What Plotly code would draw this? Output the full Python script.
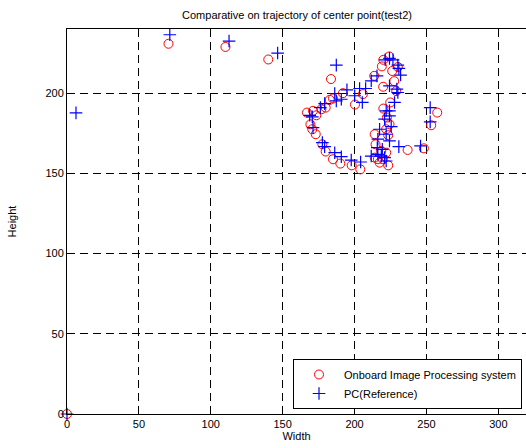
import plotly.graph_objects as go

# Onboard Image Processing system (red circles)
onboard_x = [0, 70.6, 110.2, 140.0,
             183.6, 213.7, 219.9, 224.1, 220.0, 219.0, 226.2, 230.1, 227.6, 229.0,
             224.8, 220.0, 222.5, 224.3, 222.0, 223.4,
             166.9, 171.1, 173.4, 176.9, 179.9, 182.7, 185.0, 191.9, 200.3, 205.8,
             169.3, 170.6, 173.0, 177.6, 179.9, 185.0, 190.1, 198.0, 204.0,
             214.0, 214.6, 214.0, 216.2, 217.4, 219.7, 223.4, 222.0, 218.6,
             257.5, 253.3, 248.2, 236.9]
onboard_y = [0, 230.8, 228.8, 221.0,
             208.8, 210.8, 204.0, 222.9, 220.8, 216.7, 213.8, 216.3, 207.5, 201.3,
             194.2, 190.4, 184.8, 180.6, 177.5, 173.8,
             187.9, 189.0, 186.2, 190.0, 191.0, 195.8, 196.7, 200.0, 192.9, 199.4,
             180.6, 177.5, 174.4, 168.1, 163.6, 158.8, 156.1, 155.0, 152.5,
             174.4, 168.1, 159.8, 158.8, 156.7, 158.8, 155.0, 162.9, 164.0,
             187.9, 180.0, 165.6, 164.6]

# PC(Reference) (blue pluses)
pc_x = [0, 6.25, 71.5, 112.7, 146.5,
        187.3, 221.3, 224.3, 226.7, 230.1, 230.8, 232.0, 211.6, 215.6, 224.3,
        229.4, 230.1, 227.8, 224.3, 222.0, 224.3, 220.9, 225.5, 217.4, 222.0,
        216.2, 224.3, 215.8, 219.3, 216.2, 211.6, 218.6, 220.9, 222.0,
        168.8, 170.6, 171.1, 176.2, 179.2, 186.2, 187.3, 190.8, 194.7, 203.5,
        207.7, 200.1, 205.4, 177.6, 179.2, 186.2, 190.8, 197.7, 204.2,
        252.6, 252.6, 245.9, 230.8]
pc_y = [0, 187.7, 236.4, 232.5, 225.0,
        217.5, 220.8, 221.7, 220.8, 217.5, 215.4, 211.3, 207.7, 210.8, 204.6,
        202.5, 200.4, 194.2, 189.0, 189.0, 185.8, 183.8, 179.2, 177.5, 174.4,
        171.3, 170.2, 166.0, 165.0, 161.9, 160.8, 160.8, 159.8, 157.7,
        186.2, 185.2, 178.5, 191.0, 193.5, 199.8, 195.2, 196.2, 202.1, 202.9,
        202.9, 198.4, 194.2, 169.2, 166.7, 162.9, 160.4, 158.3, 157.1,
        191.0, 182.1, 167.1, 166.7]

x_ticks = [0, 50, 100, 150, 200, 250, 300]
y_ticks = [0, 50, 100, 150, 200]

FONT = "Liberation Sans, Arial, sans-serif"

W, H = 526, 448
L, R, T, B = 67, 0, 29, 34
plot_w = W - L - R

fig = go.Figure()
fig.add_trace(go.Scatter(
    x=onboard_x, y=onboard_y, mode="markers", cliponaxis=False,
    name="Onboard Image Processing system",
    marker=dict(symbol="circle-open", size=9, color="#ff0000", line=dict(width=1, color="#ff0000")),
))
fig.add_trace(go.Scatter(
    x=pc_x, y=pc_y, mode="markers", cliponaxis=False,
    name="PC(Reference)",
    marker=dict(symbol="cross-thin-open", size=9, color="#0000ff", line=dict(width=1.2, color="#0000ff")),
))

axis_common = dict(
    showline=True, linecolor="black", linewidth=1,
    ticks="inside", ticklen=4, tickcolor="black",
    showgrid=True, gridcolor="black", gridwidth=1, griddash="8px,5px",
    zeroline=False, automargin=False,
    tickfont=dict(family=FONT, size=11, color="black"),
)

fig.update_layout(
    width=W, height=H,
    margin=dict(l=L, r=R, t=T, b=B),
    paper_bgcolor="white", plot_bgcolor="white",
    font=dict(family=FONT, size=11, color="black"),
    title=dict(text="Comparative on trajectory of center point(test2)",
               x=297 / W, xanchor="center", y=1 - 15 / H, yanchor="middle", yref="container",
               font=dict(family=FONT, size=11, color="black")),
    xaxis=dict(range=[0, plot_w / 1.4378], tickvals=x_ticks, ticktext=[str(v) for v in x_ticks],
               mirror=True, title=dict(text="Width", standoff=1,
                                       font=dict(family=FONT, size=11, color="black")),
               **axis_common),
    yaxis=dict(range=[0, 240], tickvals=y_ticks, ticktext=[str(v) for v in y_ticks],
               mirror=False, title=dict(text="Height", standoff=26,
                                        font=dict(family=FONT, size=11, color="black")),
               **axis_common),
    legend=dict(x=(522 - L) / plot_w, xanchor="right", y=(414 - 409) / 385, yanchor="bottom",
                bgcolor="white", bordercolor="black", borderwidth=1,
                font=dict(family=FONT, size=11, color="black"),
                tracegroupgap=0, itemwidth=40),
    showlegend=True,
)

fig.write_html("out.html", config={"displayModeBar": False},
               post_script="document.body.style.margin='0';document.body.style.padding='0';"
                           "document.body.style.overflow='hidden';"
                           "document.documentElement.style.overflow='hidden';")
